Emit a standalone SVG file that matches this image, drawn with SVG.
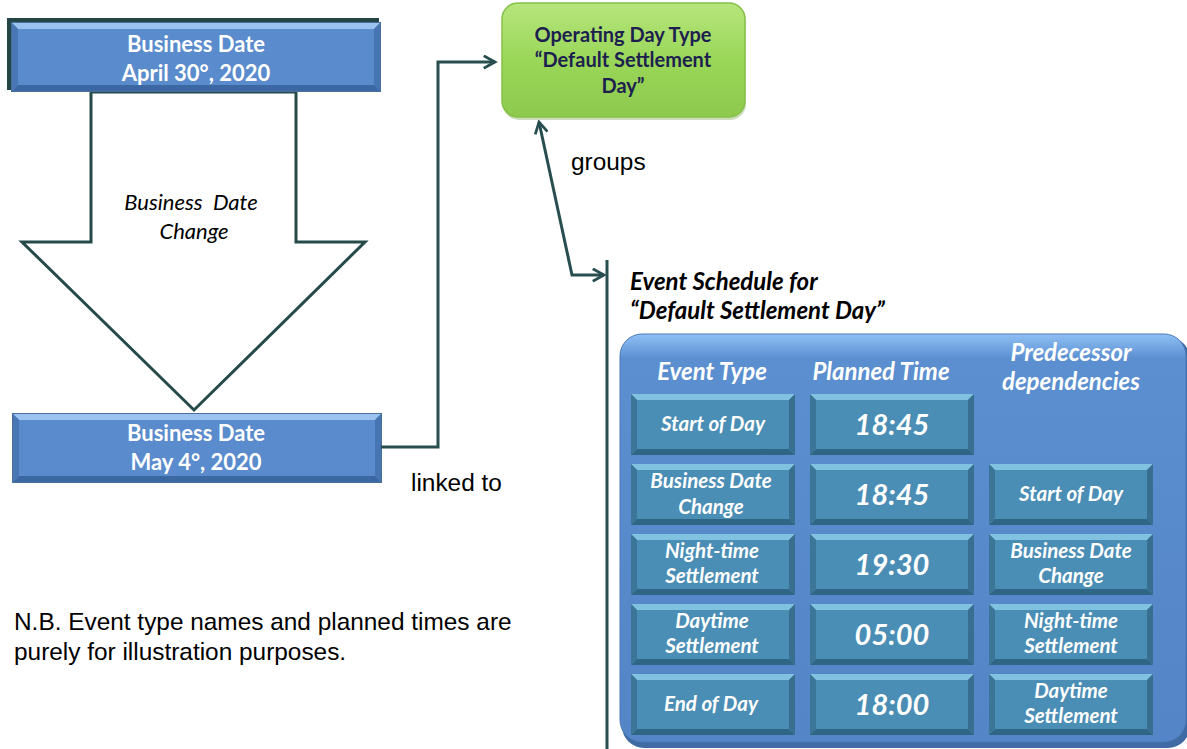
<svg xmlns="http://www.w3.org/2000/svg" xmlns:xlink="http://www.w3.org/1999/xlink" width="1187" height="749" viewBox="0 0 1187 749">
<style>
.conn{fill:none;stroke:#284e4f;stroke-width:3}
.bd{font-family:Lato,"Liberation Sans",sans-serif;font-weight:bold;font-size:22px;fill:#fff;text-anchor:middle}
.arial{font-family:"Liberation Sans",Arial,sans-serif;font-size:24.4px;fill:#000}
.hdr{font-family:Lato,"Liberation Sans",sans-serif;font-weight:bold;font-style:italic;font-size:24px;fill:#fff;text-anchor:middle}
.cl{font-family:Lato,"Liberation Sans",sans-serif;font-weight:bold;font-style:italic;font-size:20.5px;fill:#fff;text-anchor:middle}
.tm{font-family:Lato,"Liberation Sans",sans-serif;font-weight:bold;font-style:italic;font-size:29px;fill:#fff;text-anchor:middle}
.ttl{font-family:Lato,"Liberation Sans",sans-serif;font-weight:bold;font-style:italic;font-size:24px;fill:#000}
.grn{font-family:Lato,"Liberation Sans",sans-serif;font-weight:bold;font-size:20px;fill:#1d1f4e;text-anchor:middle}
.it{font-family:Lato,"Liberation Sans",sans-serif;font-style:italic;font-size:22px;fill:#000;text-anchor:middle}
</style>
<defs>
<marker id="ah" viewBox="0 0 12 12" refX="10" refY="6" markerWidth="5" markerHeight="5" orient="auto-start-reverse" markerUnits="strokeWidth">
<path d="M1,1 L10,6 L1,11" fill="none" stroke="#284e4f" stroke-width="2.2"/>
</marker>
<linearGradient id="gg" x1="0" y1="0" x2="0" y2="1">
<stop offset="0" stop-color="#b6e57c"/><stop offset="0.5" stop-color="#9ad759"/><stop offset="1" stop-color="#8cc94c"/>
</linearGradient>
<linearGradient id="pg" x1="0" y1="0" x2="0" y2="1">
<stop offset="0" stop-color="#8fc0f5"/><stop offset="0.06" stop-color="#5b8fd0"/><stop offset="1" stop-color="#5485c6"/>
</linearGradient>
<symbol id="cell" viewBox="0 0 164 61" width="164" height="61">
<rect x="0" y="0" width="164" height="61" fill="#4a8db5"/>
<polygon points="0,0 164,0 158,6 6,6" fill="#80c2df"/>
<polygon points="0,61 164,61 158,55 6,55" fill="#2f6585"/>
<polygon points="0,0 6,6 6,55 0,61" fill="#3b7597"/>
<polygon points="164,0 164,61 158,55 158,6" fill="#386f90"/>
</symbol>
<symbol id="bdbox" viewBox="0 0 370 70" width="370" height="70">
<rect x="0" y="0" width="370" height="70" fill="#5a8bcc"/>
<polygon points="0,0 370,0 363,7 7,7" fill="#9cc2f0"/>
<polygon points="0,70 370,70 363,63 7,63" fill="#3b67a3"/>
<polygon points="0,0 7,7 7,63 0,70" fill="#4977b6"/>
<polygon points="370,0 370,70 363,63 363,7" fill="#4775b2"/>
<rect x="0.5" y="0.5" width="369" height="69" fill="none" stroke="#4a6f9a" stroke-width="1"/>
</symbol>
</defs>

<g id="bigArrow">
<polygon points="91,92 91,242 22,242 194,410 365,242 296,242 296,92" fill="#fff" stroke="#264a4a" stroke-width="3"/>
<text class="it" x="191" y="210" xml:space="preserve">Business  Date</text>
<text class="it" x="194" y="239">Change</text>
</g>

<g id="bdApril">
<rect x="7" y="18" width="372" height="72" fill="#234545"/>
<use xlink:href="#bdbox" x="11" y="22"/>
<text class="bd" x="196" y="52">Business Date</text>
<text class="bd" x="196" y="81">April 30°, 2020</text>
</g>

<g id="bdMay">
<use xlink:href="#bdbox" x="12" y="413"/>
<text class="bd" x="196" y="441">Business Date</text>
<text class="bd" x="196" y="470">May 4°, 2020</text>
</g>

<g id="connectors">
<polyline class="conn" points="381,447 438,447 438,62 495,62" marker-end="url(#ah)"/>
<polyline class="conn" points="539,122 572,275 604,275" marker-start="url(#ah)" marker-end="url(#ah)"/>
<line class="conn" x1="607" y1="260" x2="607" y2="749"/>
</g>

<g id="opDayType">
<rect x="503" y="5" width="243" height="115" rx="16" fill="#6e9a3a" opacity="0.35"/>
<rect x="502" y="3" width="243" height="114" rx="16" fill="url(#gg)" stroke="#86c048" stroke-width="1.5"/>
<text class="grn" x="623" y="42">Operating Day Type</text>
<text class="grn" x="623" y="67">“Default Settlement</text>
<text class="grn" x="623" y="93">Day”</text>
</g>

<g id="labels">
<text class="arial" x="571" y="170">groups</text>
<text class="arial" x="411" y="491">linked to</text>
<text class="arial" x="14" y="630">N.B. Event type names and planned times are</text>
<text class="arial" x="14" y="660">purely for illustration purposes.</text>
<text class="ttl" x="630" y="290">Event Schedule for</text>
<text class="ttl" x="630" y="319">“Default Settlement Day”</text>
</g>

<g id="schedule">
<rect x="622" y="337" width="568" height="411" rx="22" fill="#3f6aa3"/>
<rect x="620" y="334" width="566" height="408" rx="22" fill="url(#pg)" stroke="#4a78b5" stroke-width="1"/>
<text class="hdr" x="712" y="380">Event Type</text>
<text class="hdr" x="881" y="380">Planned Time</text>
<text class="hdr" x="1071" y="361">Predecessor</text>
<text class="hdr" x="1071" y="390">dependencies</text>

<g id="row1">
<use xlink:href="#cell" x="631" y="394"/>
<use xlink:href="#cell" x="810" y="394"/>
<text class="cl" x="713" y="431">Start of Day</text>
<text class="tm" x="892" y="435">18:45</text>
</g>
<g id="row2">
<use xlink:href="#cell" x="631" y="464"/>
<use xlink:href="#cell" x="810" y="464"/>
<use xlink:href="#cell" x="989" y="464"/>
<text class="cl" x="711" y="488">Business Date</text>
<text class="cl" x="711" y="514">Change</text>
<text class="tm" x="892" y="505">18:45</text>
<text class="cl" x="1071" y="501">Start of Day</text>
</g>
<g id="row3">
<use xlink:href="#cell" x="631" y="534"/>
<use xlink:href="#cell" x="810" y="534"/>
<use xlink:href="#cell" x="989" y="534"/>
<text class="cl" x="712" y="558">Night-time</text>
<text class="cl" x="712" y="583">Settlement</text>
<text class="tm" x="892" y="575">19:30</text>
<text class="cl" x="1071" y="558">Business Date</text>
<text class="cl" x="1071" y="583">Change</text>
</g>
<g id="row4">
<use xlink:href="#cell" x="631" y="604"/>
<use xlink:href="#cell" x="810" y="604"/>
<use xlink:href="#cell" x="989" y="604"/>
<text class="cl" x="712" y="628">Daytime</text>
<text class="cl" x="712" y="653">Settlement</text>
<text class="tm" x="892" y="645">05:00</text>
<text class="cl" x="1071" y="628">Night-time</text>
<text class="cl" x="1071" y="653">Settlement</text>
</g>
<g id="row5">
<use xlink:href="#cell" x="631" y="674"/>
<use xlink:href="#cell" x="810" y="674"/>
<use xlink:href="#cell" x="989" y="674"/>
<text class="cl" x="711" y="711">End of Day</text>
<text class="tm" x="892" y="715">18:00</text>
<text class="cl" x="1071" y="698">Daytime</text>
<text class="cl" x="1071" y="723">Settlement</text>
</g>
</g>
</svg>
